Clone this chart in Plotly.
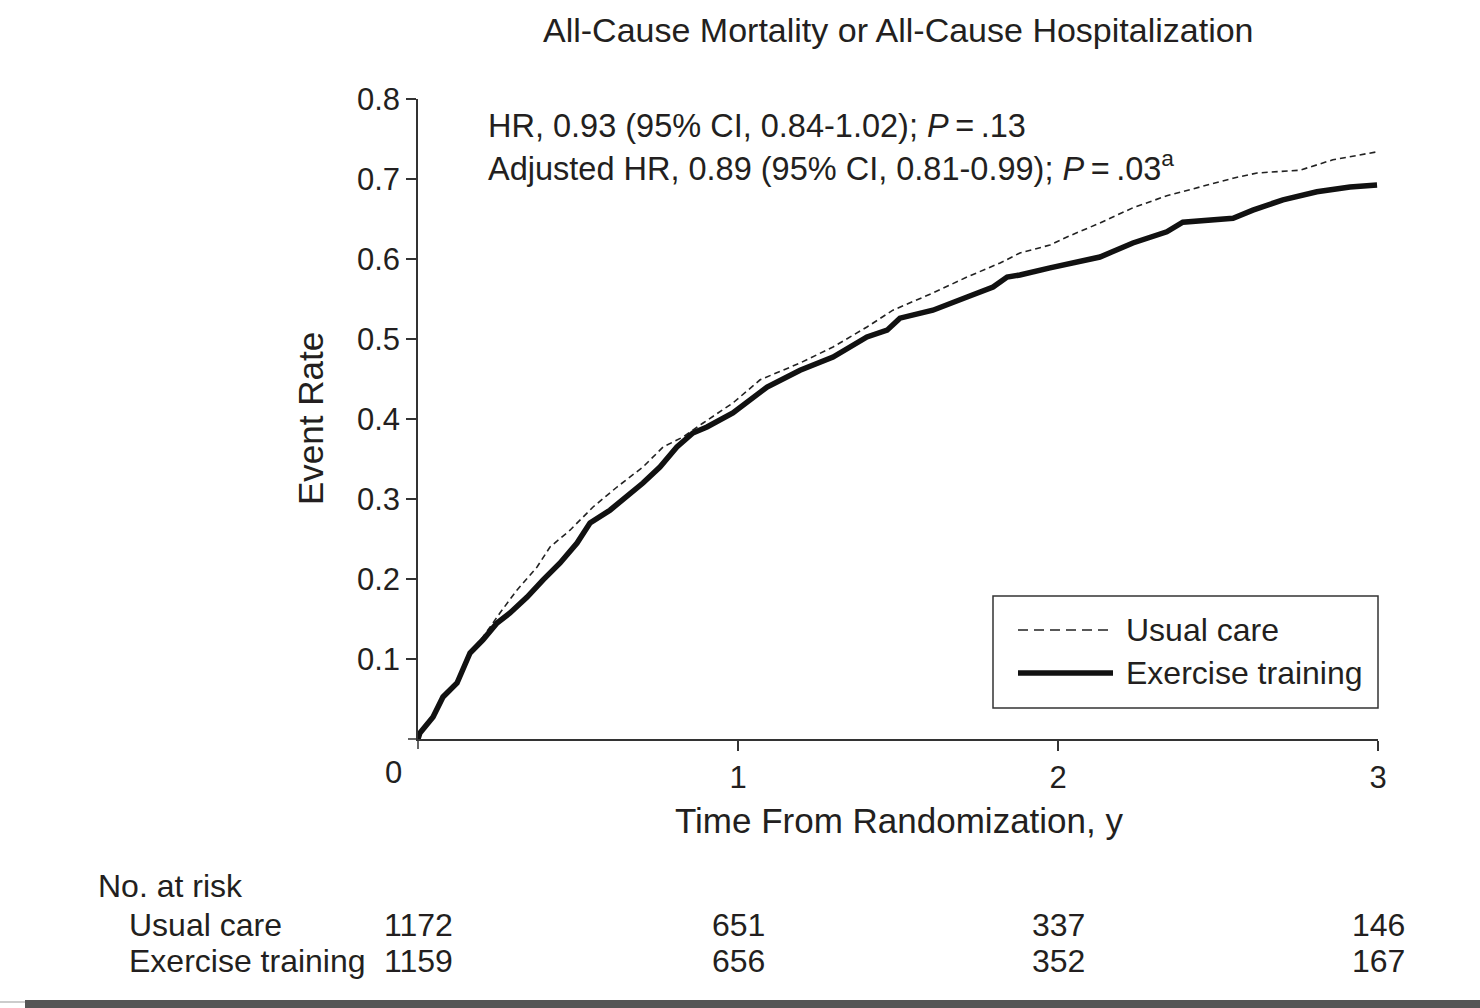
import plotly.graph_objects as go

# ---------------- data ----------------
exercise_t = [0, 0.006, 0.047, 0.078, 0.122, 0.141, 0.1625, 0.203, 0.247, 0.2875, 0.341, 0.391,
              0.444, 0.497, 0.5375, 0.6, 0.653, 0.703, 0.756, 0.809, 0.859, 0.903, 0.984, 1.091,
              1.194, 1.297, 1.403, 1.466, 1.506, 1.609, 1.716, 1.797, 1.841, 1.881, 1.975, 2.131,
              2.234, 2.34, 2.39, 2.547, 2.609, 2.703, 2.809, 2.9125, 2.997]
exercise_v = [0, 0.0075, 0.0275, 0.0525, 0.07, 0.086, 0.1075, 0.124, 0.145, 0.1575, 0.1775, 0.199,
              0.22, 0.245, 0.27, 0.286, 0.3025, 0.32, 0.34, 0.365, 0.3825, 0.39, 0.4075, 0.44,
              0.461, 0.4775, 0.5025, 0.511, 0.526, 0.536, 0.5525, 0.565, 0.5775, 0.58, 0.589, 0.6025,
              0.62, 0.634, 0.646, 0.651, 0.661, 0.674, 0.684, 0.69, 0.6925]

usual_t = [0, 0.006, 0.047, 0.078, 0.122, 0.141, 0.1625, 0.203, 0.256, 0.309, 0.372, 0.4125,
           0.475, 0.547, 0.622, 0.703, 0.766, 0.828, 0.891, 0.984, 1.069, 1.194, 1.297, 1.403,
           1.484, 1.609, 1.716, 1.819, 1.881, 1.975, 2.028, 2.131, 2.234, 2.34, 2.547, 2.622,
           2.756, 2.859, 2.997]
usual_v = [0, 0.0075, 0.0275, 0.0525, 0.07, 0.086, 0.109, 0.1275, 0.1575, 0.186, 0.215, 0.24,
           0.261, 0.29, 0.315, 0.34, 0.365, 0.3775, 0.395, 0.42, 0.449, 0.47, 0.49, 0.515,
           0.536, 0.5575, 0.5775, 0.595, 0.6075, 0.6175, 0.6275, 0.645, 0.664, 0.679, 0.701, 0.7075,
           0.711, 0.724, 0.734]

x_tickvals = [1, 2, 3]
x_ticktext = ["1", "2", "3"]
y_tickvals = [0.1, 0.2, 0.3, 0.4, 0.5, 0.6, 0.7, 0.8]
y_ticktext = ["0.1", "0.2", "0.3", "0.4", "0.5", "0.6", "0.7", "0.8"]
origin_label = "0"

risk_times = [0, 1, 2, 3]
risk_usual = [1172, 651, 337, 146]
risk_exercise = [1159, 656, 352, 167]

series_names = ["Usual care", "Exercise training"]

title_text = "All-Cause Mortality or All-Cause Hospitalization"
hr_line1 = "HR, 0.93 (95% CI, 0.84-1.02); <i>P</i>\u2009=\u2009.13"
hr_line2 = "Adjusted HR, 0.89 (95% CI, 0.81-0.99); <i>P</i>\u2009=\u2009.03<sup>a</sup>"

# ---------------- layout helpers (pixel -> paper) ----------------
W, H = 1480, 1008
L, R, T, B = 418, 1378, 99, 739


def fx(px):
    return (px - L) / (R - L)


def fy(py):
    return (B - py) / (B - T)


FONT = "Liberation Sans, Arial, Helvetica, sans-serif"
TXT = "#231f20"
AX = "#333333"

fig = go.Figure()
fig.add_trace(go.Scatter(x=usual_t, y=usual_v, mode="lines", name=series_names[0],
                         line=dict(color="#222222", width=1.6, dash="6px,4px"),
                         showlegend=False))
fig.add_trace(go.Scatter(x=exercise_t, y=exercise_v, mode="lines", name=series_names[1],
                         line=dict(color="#111111", width=5.5),
                         showlegend=False))

ann = []
ann.append(dict(text=title_text, x=fx(898), y=fy(30), xref="paper", yref="paper",
                showarrow=False, font=dict(size=34, color=TXT), xanchor="center", yanchor="middle"))
ann.append(dict(text=hr_line1, x=fx(486), y=fy(126), xref="paper", yref="paper",
                showarrow=False, font=dict(size=32.5, color=TXT), xanchor="left", yanchor="middle"))
ann.append(dict(text=hr_line2, x=fx(486), y=fy(166), xref="paper", yref="paper",
                showarrow=False, font=dict(size=32.5, color=TXT), xanchor="left", yanchor="middle"))
ann.append(dict(text="Event Rate", x=fx(310), y=fy(419), xref="paper", yref="paper", textangle=-90,
                showarrow=False, font=dict(size=35, color=TXT), xanchor="center", yanchor="middle"))
ann.append(dict(text="Time From Randomization, y", x=fx(899), y=fy(820), xref="paper", yref="paper",
                showarrow=False, font=dict(size=35, color=TXT), xanchor="center", yanchor="middle"))
ann.append(dict(text=origin_label, x=fx(393), y=fy(772), xref="paper", yref="paper",
                showarrow=False, font=dict(size=31, color=TXT), xanchor="center", yanchor="middle"))

# legend (drawn manually)
ann.append(dict(text=series_names[0], x=fx(1124), y=fy(630), xref="paper", yref="paper",
                showarrow=False, font=dict(size=32, color=TXT), xanchor="left", yanchor="middle"))
ann.append(dict(text=series_names[1], x=fx(1124), y=fy(673), xref="paper", yref="paper",
                showarrow=False, font=dict(size=32, color=TXT), xanchor="left", yanchor="middle"))

# risk table
ann.append(dict(text="No. at risk", x=fx(96), y=fy(886), xref="paper", yref="paper",
                showarrow=False, font=dict(size=32, color=TXT), xanchor="left", yanchor="middle"))
ann.append(dict(text=series_names[0], x=fx(127), y=fy(925), xref="paper", yref="paper",
                showarrow=False, font=dict(size=32, color=TXT), xanchor="left", yanchor="middle"))
ann.append(dict(text=series_names[1], x=fx(127), y=fy(961), xref="paper", yref="paper",
                showarrow=False, font=dict(size=32, color=TXT), xanchor="left", yanchor="middle"))
for t, u, e in zip(risk_times, risk_usual, risk_exercise):
    ann.append(dict(text=str(u), x=t, y=fy(925), xref="x", yref="paper", showarrow=False,
                    font=dict(size=32, color=TXT), xanchor="center", yanchor="middle"))
    ann.append(dict(text=str(e), x=t, y=fy(961), xref="x", yref="paper", showarrow=False,
                    font=dict(size=32, color=TXT), xanchor="center", yanchor="middle"))

shapes = [
    # origin tick marks
    dict(type="line", xref="paper", yref="paper", x0=fx(408), x1=fx(418), y0=0, y1=0,
         line=dict(color=AX, width=1.5)),
    dict(type="line", xref="paper", yref="paper", x0=0, x1=0, y0=fy(739), y1=fy(749),
         line=dict(color=AX, width=1.5)),
    # legend box
    dict(type="rect", xref="paper", yref="paper", x0=fx(993), x1=fx(1378), y0=fy(596), y1=fy(708),
         line=dict(color=AX, width=1.5), fillcolor="white", layer="above"),
    dict(type="line", xref="paper", yref="paper", x0=fx(1018), x1=fx(1113), y0=fy(630), y1=fy(630),
         line=dict(color="#222222", width=1.6, dash="10px,6px"), layer="above"),
    dict(type="line", xref="paper", yref="paper", x0=fx(1018), x1=fx(1113), y0=fy(673), y1=fy(673),
         line=dict(color="#111111", width=5.5), layer="above"),
    # bottom bar
    dict(type="rect", xref="paper", yref="paper", x0=fx(25), x1=fx(1480), y0=fy(1000), y1=fy(1008),
         line=dict(width=0), fillcolor="#555555", layer="above"),
    dict(type="rect", xref="paper", yref="paper", x0=fx(0), x1=fx(25), y0=fy(1001), y1=fy(1003),
         line=dict(width=0), fillcolor="#cccccc", layer="above"),
]

fig.update_layout(
    width=W, height=H,
    margin=dict(l=L, r=W - R, t=T, b=H - B, pad=0),
    paper_bgcolor="white", plot_bgcolor="white",
    font=dict(family=FONT, color=TXT),
    annotations=ann, shapes=shapes,
    showlegend=False,
)
fig.update_xaxes(range=[0, 3], tickvals=x_tickvals, ticktext=x_ticktext, showgrid=False,
                 zeroline=False, showline=True, linecolor=AX, linewidth=1.5,
                 ticks="outside", ticklen=10, tickwidth=1.5, tickcolor=AX,
                 tickfont=dict(size=31, color=TXT), fixedrange=True)
fig.update_yaxes(range=[0, 0.8], tickvals=y_tickvals, ticktext=y_ticktext, showgrid=False,
                 zeroline=False, showline=True, linecolor=AX, linewidth=1.5,
                 ticks="outside", ticklen=10, tickwidth=1.5, tickcolor=AX,
                 tickfont=dict(size=31, color=TXT), fixedrange=True)

fig.write_html("out.html", config={"displayModeBar": False})
